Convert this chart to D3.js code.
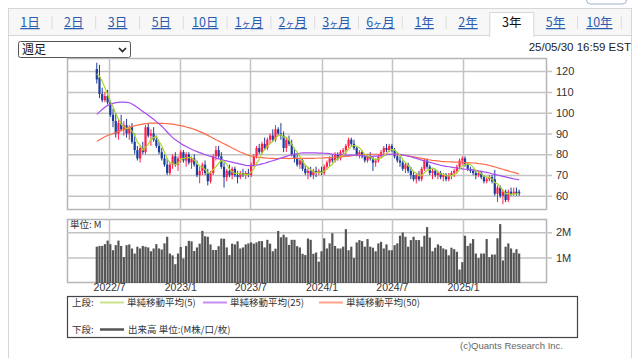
<!DOCTYPE html>
<html><head><meta charset="utf-8">
<script src="https://cdn.jsdelivr.net/npm/d3@7"></script>
<style>
body{margin:0;background:#fff;}
svg{display:block;font-family:"Liberation Sans",Arial,"Noto Sans CJK JP",sans-serif;}
</style>
</head><body>
<svg id="c" width="640" height="358"></svg>
<script>
// ---------- data ----------
const tabs = ["1日","2日","3日","5日","10日","1ヶ月","2ヶ月","3ヶ月","6ヶ月","1年","2年","3年","5年","10年"];
const selectedTab = "3年";
const periodLabel = "週足";
const stampLabel = "25/05/30 16:59 EST";
const firstWeek = "2022-05-30";

const open  = [121,117,109,106,108,105,99,96,90,95,92,94,90,93,86,82,78,83,81,93,89,90,87,84,81,78,75,71,75,79,75,78,81,77,80,76,78,75,70,72,75,71,67,71,79,82,79,74,69,72,70,73,70,69,71,70,71,70,75,79,83,81,85,83,87,89,87,92,90,89,83,87,85,80,78,75,77,73,71,72,70,72,71,72,71,74,76,78,77,80,78,81,82,84,87,85,83,80,81,79,77,79,78,76,77,79,81,83,82,84,82,79,77,76,73,75,72,70,68,70,68,73,77,74,71,72,70,71,69,70,68,70,71,72,74,77,78,75,73,72,71,70,71,69,67,68,69,68,61,64,60,62,58,62,61,62,62];
const high  = [124,123,112,110,111,106,102,100,97,99,96,97,94,95,90,84,84,86,94,95,92,93,89,86,83,80,78,76,80,81,79,82,82,81,81,79,80,77,74,76,77,73,72,80,84,84,81,76,73,75,74,74,72,72,73,72,73,76,80,84,85,86,88,88,90,92,94,93,95,91,88,89,87,83,80,78,78,75,74,74,73,74,73,74,75,77,79,80,81,81,82,83,85,88,88,87,84,82,82,80,80,81,79,78,80,82,84,85,85,85,83,81,79,77,76,76,74,72,71,72,74,78,78,75,73,73,72,72,71,71,71,72,73,75,78,79,79,76,74,73,72,72,72,70,69,70,70,72.5,65,65,63,63,63,64,64,64,63];
const low   = [114,107,105,105,104,98,93,88,87,91,89,88,87,85,80,77,76,80,80,88,84,86,83,80,77,74,70,70,73,74,72,76,76,74,75,73,74,69,66,70,70,65,66,70,77,78,73,64,67,69,68,69,66,68,69,68,69,69,74,78,80,80,82,82,85,86,86,89,87,81,81,84,79,76,74,73,72,70,68,69,68,69,70,70,70,73,74,76,76,77,77,79,80,83,84,82,79,78,78,76,76,77,72,74,76,78,80,81,81,81,78,76,74,72,71,71,68,67,66,67,67,72,73,70,68,69,68,68,67,67,67,68,69,71,73,75,74,72,71,70,68,69,68,66,66,67,66,60,57,59,56,57,57,60,60,60,60];
const close = [116,109,106,108,105,99,96,90,95,92,94,90,93,86,82,78,83,81,93,89,90,87,84,81,78,75,71,75,79,75,78,81,77,80,76,78,75,70,72,75,71,67,71,79,82,79,74,69,72,70,73,70,69,71,70,71,70,75,79,83,81,85,83,87,89,87,92,90,89,83,87,85,80,78,75,77,73,71,72,70,72,71,72,71,74,76,78,77,80,78,81,82,84,87,85,83,80,81,79,77,79,78,76,77,79,81,83,82,84,82,79,77,76,73,75,72,70,68,70,68,73,77,74,71,72,70,71,69,70,68,70,71,72,74,77,78,75,73,72,71,70,71,69,67,68,69,67,61,64,60,62,58,62,61,62,61,61];
const closeBeforeWindow = [114,119,123,121];

const ma25 = [99.2,100.4,101.5,102.6,103.5,104.0,104.5,104.8,105.0,105.1,105.1,105.0,104.8,104.2,103.4,102.5,101.5,100.6,99.7,98.8,97.8,96.8,95.7,94.6,93.5,92.1,90.7,89.3,88.0,87.0,86.1,85.2,84.4,83.7,83.0,82.4,81.8,81.3,80.8,80.3,79.8,79.4,79.0,78.6,78.2,77.8,77.5,77.1,76.8,76.5,76.2,75.9,75.6,75.3,75.0,74.7,74.5,74.5,74.6,74.8,75.0,75.4,75.7,76.1,76.5,76.9,77.3,77.8,78.2,78.6,79.0,79.4,79.8,80.1,80.3,80.5,80.7,80.7,80.7,80.7,80.7,80.7,80.6,80.6,80.5,80.4,80.3,80.1,80.0,79.9,79.8,79.7,79.6,79.6,79.6,79.6,79.6,79.4,79.3,79.1,79.0,79.0,79.0,79.1,79.2,79.4,79.6,79.8,80.0,80.1,80.1,80.0,80.0,79.7,79.4,79.1,78.8,78.4,78.0,77.6,77.2,76.8,76.5,76.1,75.8,75.4,75.1,74.7,74.4,74.2,74.0,73.8,73.6,73.4,73.2,73.0,72.8,72.7,72.6,72.4,72.3,72.0,71.8,71.5,71.3,71.0,70.6,70.3,70.0,69.7,69.4,69.1,68.8,68.5,68.2,68.0,67.7];
const ma50 = [86.3,87.0,87.7,88.4,89.0,89.5,90.0,90.5,91.0,91.5,92.0,92.5,93.0,93.3,93.7,94.0,94.3,94.5,94.7,94.9,95.0,95.0,95.0,94.9,94.9,94.8,94.7,94.6,94.5,94.3,94.0,93.8,93.5,93.1,92.8,92.4,92.0,91.5,90.9,90.4,89.8,89.1,88.4,87.7,87.0,86.4,85.7,85.1,84.4,83.7,83.0,82.4,81.7,81.1,80.6,80.0,79.5,79.2,79.0,78.7,78.5,78.4,78.3,78.1,78.0,78.0,77.9,77.9,78.0,78.0,78.0,77.9,78.0,78.0,78.0,78.0,78.0,78.0,78.0,78.0,78.0,78.1,78.2,78.2,78.3,78.4,78.4,78.5,78.6,78.7,78.8,78.9,79.0,79.1,79.2,79.4,79.5,79.6,79.7,79.9,80.0,80.0,80.0,80.0,80.0,80.0,80.0,80.0,80.0,79.9,79.9,79.8,79.7,79.5,79.4,79.2,79.0,78.8,78.5,78.3,78.0,77.8,77.5,77.3,77.0,76.9,76.8,76.6,76.5,76.4,76.4,76.3,76.2,76.2,76.1,76.1,76.0,75.9,75.9,75.8,75.7,75.5,75.4,75.2,75.0,74.6,74.3,73.9,73.5,73.1,72.8,72.4,72.0,71.6,71.3,70.9,70.5];

const volume = [1.43,1.46,1.46,1.53,1.67,1.53,1.29,1.49,1.67,1.46,
1.02,1.49,1.52,1.36,1.16,1.43,1.36,1.46,1.43,1.40,
1.25,1.36,1.53,1.36,1.32,1.56,1.82,1.16,1.09,0.74,
1.16,1.42,0.96,1.46,1.66,1.64,1.26,1.40,1.55,2.05,
1.84,1.82,1.52,1.30,1.30,1.45,1.75,1.74,1.40,1.10,
1.55,1.52,1.64,1.36,1.40,1.52,1.56,1.60,1.55,1.60,
1.65,1.65,1.40,1.70,1.55,1.25,1.35,2.05,1.80,1.90,
1.80,1.50,1.70,1.70,1.45,1.40,1.15,1.10,1.75,1.70,
1.15,1.20,0.84,1.25,1.76,1.36,1.56,1.96,1.46,1.36,
1.36,1.43,2.12,1.29,1.43,0.98,1.60,1.69,1.65,1.43,
1.73,1.43,1.39,1.25,1.56,1.62,1.36,1.52,1.29,1.29,
1.49,1.56,1.86,1.99,1.82,1.43,1.69,1.82,1.69,1.69,
1.43,1.86,2.20,1.79,1.25,1.39,1.52,1.46,1.36,1.32,
1.09,1.39,1.33,1.23,0.53,0.82,1.86,1.46,1.56,1.73,
1.16,0.98,1.16,1.16,1.73,1.02,1.12,1.12,1.76,2.32,
0.89,1.43,1.56,1.36,1.19,1.33,1.16];

const priceTicks = [60,70,80,90,100,110,120];
const volumeTicks = [1,2];
const volumeTickLabels = ["1M","2M"];
const monthTicks = ["2022-07-01","2023-01-01","2023-07-01","2024-01-01","2024-07-01","2025-01-01"];
const monthLabels = ["2022/7","2023/1","2023/7","2024/1","2024/7","2025/1"];
const legendTop = [{label:"単純移動平均(5)",color:"#c9e38a"},{label:"単純移動平均(25)",color:"#c98cf2"},{label:"単純移動平均(50)",color:"#ffa48a"}];
const legendBottom = "出来高 単位:(M株/口/枚)";
const volumeUnit = "単位: M";
const copyright = "(c)Quants Research Inc.";

// ---------- layout ----------
const svg = d3.select("#c");
const L = 67, R = 547, PT = 58, PB = 210, VT = 219, VB = 283;
const UP = "#ff1f4b", DOWN = "#1c3d9c";
const GRID = "#c3c3c3";
const parse = d3.timeParse("%Y-%m-%d");
const week0 = parse(firstWeek);
const dates = close.map((_, i) => d3.timeMonday.offset(week0, i));
const x = d3.scaleTime().domain([d3.timeWeek.offset(dates[0], -11), d3.timeDay.offset(dates[dates.length-1], 72)]).range([L, R]);
const y = d3.scaleLinear().domain([53.2, 126.3]).range([PB, PT]);
const yv = d3.scaleLinear().domain([0, 2.52]).range([VB, VT]);

// moving average (5) from the closes
const allClose = closeBeforeWindow.concat(close);
const ma5 = close.map((_, i) => d3.mean(allClose.slice(i, i + 5)));

// ---------- page chrome ----------
svg.append("rect").attr("x",586.5).attr("y",-8).attr("width",40).attr("height",12).attr("rx",4)
  .attr("fill","#fff").attr("stroke","#9fb3cc");
svg.append("rect").attr("x",8.5).attr("y",8.5).attr("width",623).attr("height",360)
  .attr("fill","#fff").attr("stroke","#d6d6d6");
svg.append("rect").attr("x",9).attr("y",9).attr("width",622).attr("height",26).attr("fill","#f7f7f7");
svg.append("line").attr("x1",9).attr("x2",631).attr("y1",35.5).attr("y2",35.5).attr("stroke","#d6d6d6");

const tabStep = 43.8, tabStart = 30;
const tg = svg.append("g");
tabs.forEach((t, i) => {
  const cx = tabStart + i * tabStep;
  if (t === selectedTab) {
    tg.append("rect").attr("x",cx-22).attr("y",12.5).attr("width",44).attr("height",24)
      .attr("fill","#fff").attr("stroke","#d6d6d6");
    tg.append("rect").attr("x",cx-21.5).attr("y",34).attr("width",43).attr("height",3).attr("fill","#fff");
  } else if (i < tabs.length - 1 && tabs[i+1] !== selectedTab) {
    tg.append("line").attr("x1",cx+tabStep/2).attr("x2",cx+tabStep/2).attr("y1",16).attr("y2",29).attr("stroke","#dcdcdc");
  }
  if (i === tabs.length - 1) {
    tg.append("line").attr("x1",cx+tabStep/2).attr("x2",cx+tabStep/2).attr("y1",16).attr("y2",29).attr("stroke","#dcdcdc");
  }
  const tx = tg.append("text").attr("x",cx).attr("y",27).attr("text-anchor","middle")
    .attr("font-size",12.5)
    .attr("font-family","'Noto Sans CJK JP',sans-serif")
    .attr("fill", t === selectedTab ? "#111" : "#2a5db0")
    .attr("text-decoration", t === selectedTab ? "none" : "underline");
  const parts = t.split("ヶ");
  if (parts.length === 2) {
    tx.append("tspan").text(parts[0]);
    tx.append("tspan").attr("font-size",9).text("ヶ");
    tx.append("tspan").text(parts[1]);
  } else tx.text(t);
});

// select box
svg.append("rect").attr("x",18.5).attr("y",41.5).attr("width",112).attr("height",16).attr("rx",2)
  .attr("fill","#fff").attr("stroke","#555");
svg.append("text").attr("x",22).attr("y",54).attr("font-size",12)
  .attr("font-family","'Noto Sans CJK JP',sans-serif").attr("fill","#111").text(periodLabel);
svg.append("path").attr("d","M119,48 l3.5,3.5 l3.5,-3.5").attr("fill","none").attr("stroke","#222").attr("stroke-width",1.6);
svg.append("text").attr("x",631).attr("y",51).attr("text-anchor","end").attr("font-size",11.5)
  .attr("fill","#222").text(stampLabel);

// ---------- panels ----------
function panel(top, bottom) {
  svg.append("rect").attr("x",L+0.5).attr("y",top+0.5).attr("width",R-L-1).attr("height",bottom-top-1)
    .attr("fill","#fff").attr("stroke","#b5b5b5").attr("stroke-width",1.5);
}
panel(PT, PB);
panel(VT, VB);

const monthDates = monthTicks.map(parse);
[[PT,PB],[VT,VB]].forEach(([t,b]) => {
  svg.append("g").selectAll("line").data(monthDates).join("line")
    .attr("x1",d=>Math.round(x(d))+0.5).attr("x2",d=>Math.round(x(d))+0.5)
    .attr("y1",t).attr("y2",b).attr("stroke",GRID).attr("stroke-width",1.5);
});

const gy = svg.append("g").attr("transform",`translate(${R},0)`)
  .call(d3.axisRight(y).tickValues(priceTicks).tickSize(5).tickPadding(4));
gy.select(".domain").remove();
gy.selectAll(".tick line").attr("stroke",GRID).attr("stroke-width",1.5).attr("x1",-(R-L));
gy.selectAll(".tick text").attr("font-size",11).attr("fill","#333").attr("font-family","'Liberation Sans',Arial,sans-serif");

const gv = svg.append("g").attr("transform",`translate(${R},0)`)
  .call(d3.axisRight(yv).tickValues(volumeTicks).tickFormat((d,i)=>volumeTickLabels[i]).tickSize(5).tickPadding(4));
gv.select(".domain").remove();
gv.selectAll(".tick line").attr("stroke",GRID).attr("stroke-width",1.5).attr("x1",-(R-L));
gv.selectAll(".tick text").attr("font-size",11).attr("fill","#333").attr("font-family","'Liberation Sans',Arial,sans-serif");

const gx = svg.append("g").attr("transform",`translate(0,${VB})`)
  .call(d3.axisBottom(x).tickValues(monthDates).tickFormat((d,i)=>monthLabels[i]).tickSize(0).tickPadding(1));
gx.select(".domain").remove();
gx.selectAll(".tick text").attr("font-size",10.5).attr("fill","#333").attr("font-family","'Liberation Sans',Arial,sans-serif");

// ---------- candles ----------
const cg = svg.append("g");
const idx = d3.range(close.length);
cg.selectAll("line.w").data(idx).join("line").attr("class","w")
  .attr("x1",i=>x(dates[i])).attr("x2",i=>x(dates[i]))
  .attr("y1",i=>y(high[i])).attr("y2",i=>y(low[i]))
  .attr("stroke",i=>close[i]>=open[i]?UP:DOWN).attr("stroke-width",1);
cg.selectAll("rect.b").data(idx).join("rect").attr("class","b")
  .attr("x",i=>x(dates[i])-1.1).attr("width",2.2)
  .attr("y",i=>y(Math.max(open[i],close[i])))
  .attr("height",i=>Math.max(1,Math.abs(y(open[i])-y(close[i]))))
  .attr("fill",i=>close[i]>=open[i]?UP:DOWN);

const line = d3.line().x((d,i)=>x(dates[i])).y(d=>y(d));
svg.append("path").datum(ma50).attr("d",line).attr("fill","none").attr("stroke","#ff6a48").attr("stroke-width",1.2);
svg.append("path").datum(ma25).attr("d",line).attr("fill","none").attr("stroke","#a64cf0").attr("stroke-width",1.2);
svg.append("path").datum(ma5).attr("d",line).attr("fill","none").attr("stroke","#a8d62a").attr("stroke-width",1.2);

// ---------- volume ----------
svg.append("g").selectAll("rect").data(idx).join("rect")
  .attr("x",i=>x(dates[i])-1.1).attr("width",2.2)
  .attr("y",i=>yv(volume[i])).attr("height",i=>yv(0)-yv(volume[i]))
  .attr("fill","#555");
svg.append("text").attr("x",70).attr("y",228).attr("font-size",9.5)
  .attr("font-family","'Noto Sans CJK JP',sans-serif").attr("fill","#333").text(volumeUnit);

// ---------- legend ----------
const lg = svg.append("g").attr("font-family","'Noto Sans CJK JP',sans-serif").attr("font-size",9.5).attr("fill","#333");
lg.append("rect").attr("x",67.5).attr("y",296.5).attr("width",510).attr("height",41)
  .attr("fill","#fff").attr("stroke","#444").attr("stroke-width",1.2);
lg.append("text").attr("x",72).attr("y",306).text("上段:");
const itemX = [100, 203, 319];
legendTop.forEach((d,i)=>{
  lg.append("line").attr("x1",itemX[i]).attr("x2",itemX[i]+24).attr("y1",302.5).attr("y2",302.5)
    .attr("stroke",d.color).attr("stroke-width",2);
  lg.append("text").attr("x",itemX[i]+27).attr("y",306).text(d.label);
});
lg.append("text").attr("x",72).attr("y",333).text("下段:");
lg.append("line").attr("x1",100).attr("x2",124).attr("y1",329.5).attr("y2",329.5).attr("stroke","#555").attr("stroke-width",2.5);
lg.append("text").attr("x",128).attr("y",333).text(legendBottom);
svg.append("text").attr("x",563).attr("y",349).attr("text-anchor","end").attr("font-size",9.5)
  .attr("fill","#666").text(copyright);
</script>
</body></html>
